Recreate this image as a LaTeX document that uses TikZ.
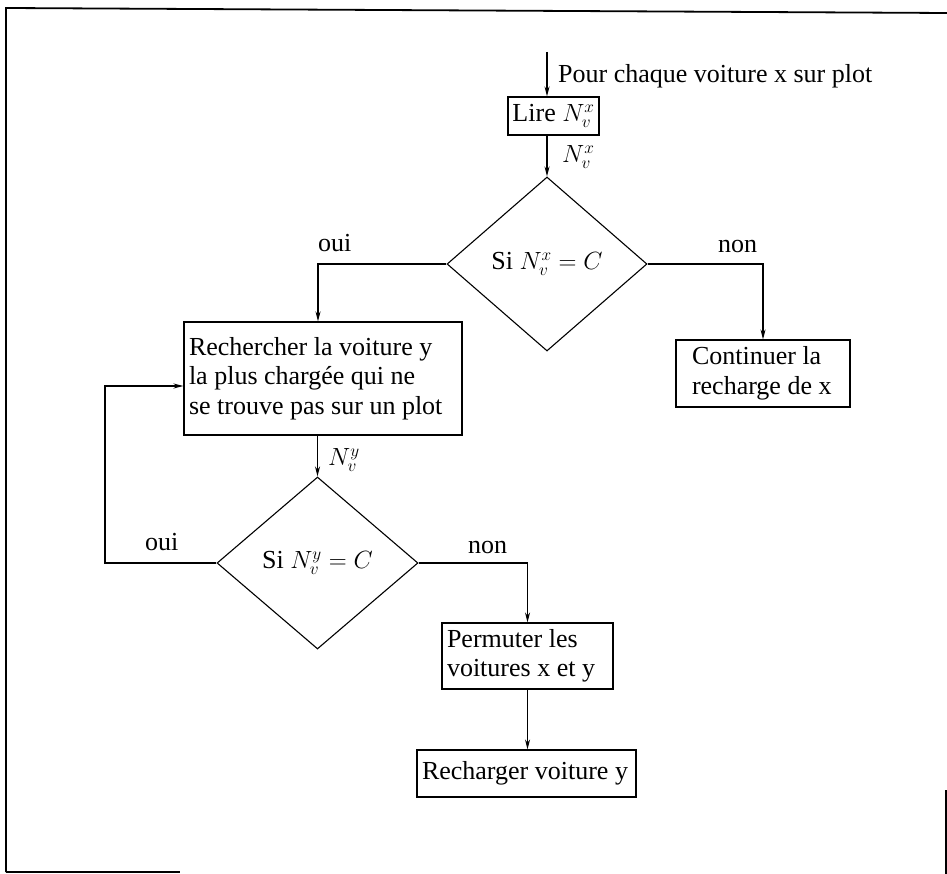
\documentclass[tikz,border=0pt]{standalone}
\usepackage{fontspec}
\setmainfont{Liberation Serif}
\usetikzlibrary{shapes.geometric,arrows.meta}
\begin{document}
\begin{tikzpicture}[x=1pt,y=-1pt,
  every node/.style={font=\fontsize{26}{29.5}\selectfont},
  box/.style={draw,line width=1.1pt,inner xsep=5pt,inner ysep=6pt,align=left,
    execute at begin node={\spaceskip=0pt\xspaceskip=0pt}},
  decision/.style={draw,line width=1.1pt,diamond,inner sep=0pt},
  lbl/.style={inner sep=0pt},
  flow/.style={line width=1.1pt,-{Stealth[length=10pt,width=5pt]}},
  frame/.style={line width=1.8pt}]
\useasboundingbox (0,0) rectangle (947,874);
% frame
\draw[frame] (6,872) -- (6,8) -- (947,13);
\draw[frame] (6,872) -- (180,872);
\draw[frame] (946,790) -- (946,874);
% nodes
\node[box,minimum width=91pt,minimum height=38pt,inner sep=2pt] (lire) at (553.5,116) {Lire $N_v^x$};
\node[decision,minimum width=200pt,minimum height=174pt] (d1) at (547,264) {Si $N_v^x = C$};
\node[box,text width=268pt,minimum height=113pt] (rech) at (323,378.5) {\mbox{Rechercher la voiture y}\\\mbox{la plus chargée qui ne}\\\mbox{se trouve pas sur un plot}};
\node[box,inner xsep=16pt,text width=142pt,minimum height=67pt] (cont) at (763,373.5) {\mbox{Continuer la}\\\mbox{recharge de x}};
\node[decision,minimum width=201pt,minimum height=172pt] (d2) at (317.5,563) {Si $N_v^y = C$};
\node[box,text width=161pt,minimum height=66pt] (perm) at (527.5,656) {\mbox{Permuter les}\\\mbox{voitures x et y}};
\node[box,text width=209pt,minimum height=47pt] (rechy) at (526.5,773.5) {\mbox{Recharger voiture y}};
% coordinates
\coordinate (start) at (547,52);
\coordinate (c1) at (318,263);
\coordinate (c2) at (105,386);
% connectors
\draw[flow] (start) -- (start |- lire.north);
\draw[flow] (d1.north |- lire.south) -- (d1.north);
\draw[flow] (d1.west) -| (c1 |- rech.north);
\draw[flow] (d1.east) -| (cont.north);
\draw[flow] (d2.north |- rech.south) -- (d2.north);
\draw[flow] (d2.west) -| (c2) -- (c2 -| rech.west);
\draw[flow] (d2.east) -| (perm.north);
\draw[flow] (perm.south) -- (perm.south |- rechy.north);
% labels
\node[lbl,anchor=base west] (tpour) at (558,83) {Pour chaque voiture x sur plot};
\node[lbl,anchor=west] (tnx) at (562,157) {$N_v^x$};
\node[lbl,anchor=base west] (oui1) at (318,252) {oui};
\node[lbl,anchor=base west] (non1) at (718,253) {non};
\node[lbl,anchor=west] (tny) at (328,460) {$N_v^y$};
\node[lbl,anchor=base west] (oui2) at (145,550) {oui};
\node[lbl,anchor=base west] (non2) at (468,553) {non};
\end{tikzpicture}
\end{document}
